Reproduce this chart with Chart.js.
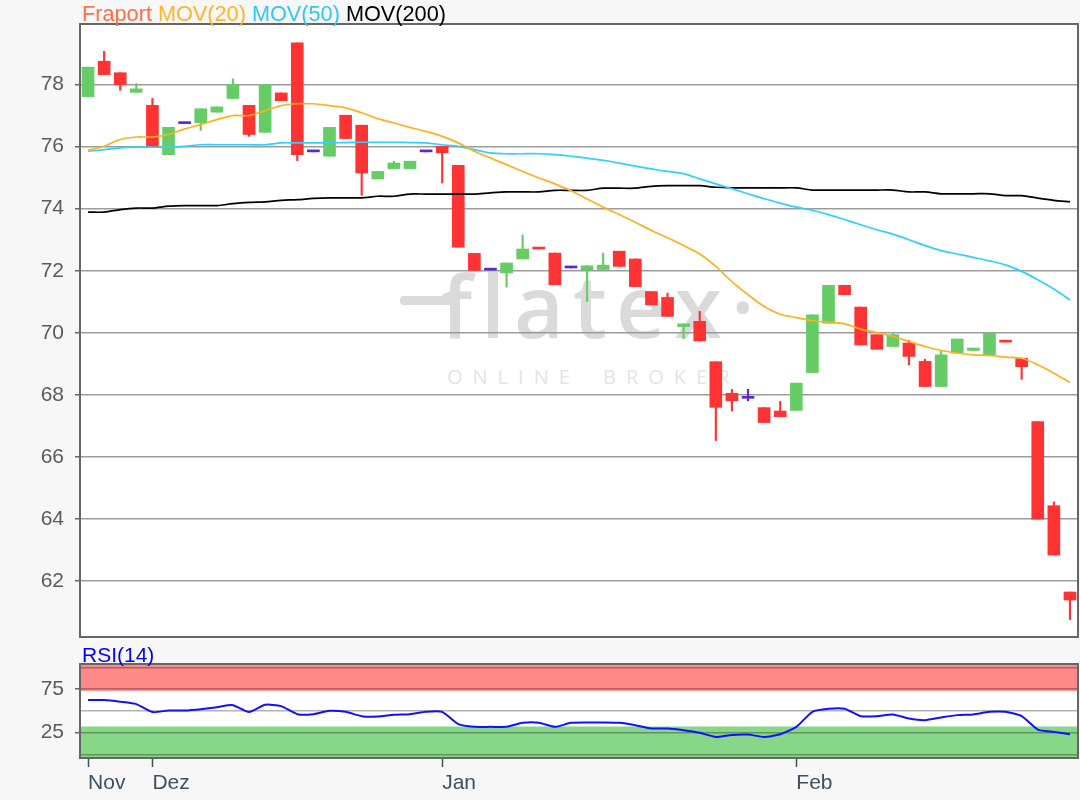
<!DOCTYPE html>
<html>
<head>
<meta charset="utf-8">
<script src="https://cdn.jsdelivr.net/npm/chart.js@4.4.1/dist/chart.umd.min.js"></script>
<style>
  body { margin: 0; background: #f7f7f7; }
  #wrap { position: relative; width: 1080px; height: 800px; overflow: hidden; background: #f7f7f7;
          font-family: "Liberation Sans", Arial, sans-serif; }
  #plotBg { position: absolute; left: 80px; top: 24px; width: 998px; height: 613px; background: #fff; }
  #fbar { position: absolute; left: 400px; top: 296px; width: 52px; height: 9px; border-radius: 4px; background: #dadada; }
  #mark { position: absolute; left: 441px; top: 262px; font-family: "Open Sans"; font-weight: 600;
          font-size: 86px; line-height: 1; letter-spacing: 9px; color: #dadada; white-space: nowrap; }
  #mark2 { position: absolute; left: 447px; top: 367px; font-family: "Open Sans"; font-size: 20px;
           line-height: 1; letter-spacing: 10px; word-spacing: 8px; color: #e4e4e4; white-space: nowrap; }
  .lbl { position: absolute; left: 82px; line-height: 24px; white-space: nowrap; }
  canvas { position: absolute; left: 0; }
</style>
</head>
<body>
<div id="wrap">
  <div id="plotBg"></div>
  <div id="fbar"></div>
  <div id="mark">flatex·</div>
  <div id="mark2">ONLINE BROKER</div>
  <canvas id="price" width="1080" height="640" style="top:0"></canvas>
  <canvas id="rsiChart" width="1080" height="160" style="top:640px"></canvas>
  <div class="lbl" style="top:2px;font-size:21.7px"><span style="color:#ff6e46">Fraport</span> <span style="color:#ffb428">MOV(20)</span> <span style="color:#2fc8f5">MOV(50)</span> <span style="color:#000">MOV(200)</span></div>
  <div class="lbl" style="top:643px;font-size:21px;color:#0000ff">RSI(14)</div>
</div>
<script>
const dates = [
  "26.11.2019", "27.11.2019", "28.11.2019", "29.11.2019",
  "02.12.2019", "03.12.2019", "04.12.2019", "05.12.2019", "06.12.2019", "09.12.2019",
  "10.12.2019", "11.12.2019", "12.12.2019", "13.12.2019", "16.12.2019", "17.12.2019",
  "18.12.2019", "19.12.2019", "20.12.2019", "23.12.2019", "27.12.2019", "30.12.2019",
  "02.01.2020", "03.01.2020", "06.01.2020", "07.01.2020", "08.01.2020", "09.01.2020",
  "10.01.2020", "13.01.2020", "14.01.2020", "15.01.2020", "16.01.2020", "17.01.2020",
  "20.01.2020", "21.01.2020", "22.01.2020", "23.01.2020", "24.01.2020", "27.01.2020",
  "28.01.2020", "29.01.2020", "30.01.2020", "31.01.2020",
  "03.02.2020", "04.02.2020", "05.02.2020", "06.02.2020", "07.02.2020", "10.02.2020",
  "11.02.2020", "12.02.2020", "13.02.2020", "14.02.2020", "17.02.2020", "18.02.2020",
  "19.02.2020", "20.02.2020", "21.02.2020", "24.02.2020", "25.02.2020", "26.02.2020"
];
const tickIndex = [0, 4, 22, 44];
const tickLabels = ["Nov", "Dez", "Jan", "Feb"];

const opens = [
  77.61, 78.75, 78.38, 77.75, 77.33, 75.74, 76.74, 76.77, 77.11, 77.55,
  77.33, 76.46, 77.73, 79.34, 75.83, 75.69, 77.01, 76.69, 74.96, 75.29,
  75.29, 75.83, 76.01, 75.40, 72.56, 72.02, 71.93, 72.38, 72.75, 72.57,
  72.09, 72.03, 72.04, 72.63, 72.38, 71.33, 71.14, 70.20, 70.37, 69.07,
  68.05, 67.89, 67.59, 67.48, 67.50, 68.72, 70.31, 71.53, 70.83, 69.94,
  69.56, 69.67, 69.08, 68.27, 69.35, 69.43, 69.29, 69.75, 69.18, 67.14,
  64.43, 61.65
];
const highs = [
  78.56, 79.07, 78.38, 78.03, 77.55, 76.62, 76.74, 77.22, 77.28, 78.18,
  77.33, 78.00, 77.73, 79.34, 75.83, 76.62, 77.01, 76.69, 75.20, 75.53,
  75.53, 75.83, 76.01, 75.40, 72.56, 72.02, 72.25, 73.15, 72.75, 72.57,
  72.09, 72.16, 72.57, 72.63, 72.38, 71.33, 71.28, 70.29, 70.69, 69.07,
  68.18, 68.18, 67.59, 67.79, 68.38, 70.58, 71.53, 71.53, 70.83, 69.94,
  69.99, 69.75, 69.15, 69.40, 69.80, 69.51, 69.99, 69.75, 69.18, 67.14,
  64.55, 61.65
];
const lows = [
  77.61, 78.32, 77.81, 77.75, 76.00, 75.74, 76.74, 76.52, 77.11, 77.55,
  76.33, 76.46, 77.48, 75.55, 75.83, 75.69, 76.26, 74.43, 74.96, 75.29,
  75.29, 75.83, 74.83, 72.76, 72.01, 72.02, 71.47, 72.38, 72.70, 71.55,
  72.09, 71.01, 72.04, 72.14, 71.49, 70.90, 70.53, 69.81, 69.74, 66.53,
  67.48, 67.81, 67.11, 67.30, 67.50, 68.72, 70.31, 71.23, 69.61, 69.47,
  69.56, 68.97, 68.27, 68.27, 69.35, 69.43, 69.29, 69.70, 68.50, 64.00,
  62.84, 60.76
];
const closes = [
  78.56, 78.32, 78.00, 77.86, 76.00, 76.62, 76.74, 77.22, 77.28, 78.00,
  76.39, 78.00, 77.48, 75.74, 75.83, 76.62, 76.26, 75.15, 75.20, 75.47,
  75.53, 75.83, 75.80, 72.76, 72.01, 72.02, 72.25, 72.70, 72.70, 71.55,
  72.09, 72.16, 72.18, 72.14, 71.49, 70.90, 70.53, 70.29, 69.74, 67.60,
  67.81, 67.89, 67.11, 67.30, 68.38, 70.58, 71.53, 71.23, 69.61, 69.47,
  69.94, 69.24, 68.27, 69.29, 69.80, 69.51, 69.99, 69.70, 68.91, 64.00,
  62.84, 61.39
];

const mov20 = [
  75.88, 76.01, 76.23, 76.31, 76.31, 76.39, 76.57, 76.71, 76.87, 77.00,
  77.00, 77.16, 77.32, 77.38, 77.38, 77.32, 77.25, 77.09, 76.90, 76.76,
  76.62, 76.49, 76.33, 76.12, 75.85, 75.63, 75.42, 75.20, 74.99, 74.80,
  74.58, 74.31, 74.05, 73.81, 73.56, 73.30, 73.06, 72.81, 72.54, 72.14,
  71.65, 71.23, 70.85, 70.60, 70.49, 70.39, 70.34, 70.29, 70.12, 70.01,
  69.88, 69.72, 69.56, 69.43, 69.35, 69.29, 69.27, 69.22, 69.18, 68.97,
  68.70, 68.40
];
const mov50 = [
  75.85, 75.90, 75.96, 75.98, 75.98, 75.98, 76.01, 76.06, 76.06, 76.06,
  76.06, 76.06, 76.12, 76.12, 76.12, 76.12, 76.13, 76.14, 76.14, 76.14,
  76.13, 76.12, 76.06, 76.01, 75.90, 75.80, 75.77, 75.77, 75.77, 75.74,
  75.69, 75.63, 75.56, 75.47, 75.37, 75.28, 75.20, 75.13, 74.96, 74.80,
  74.64, 74.48, 74.32, 74.18, 74.05, 73.95, 73.81, 73.65, 73.48, 73.32,
  73.18, 73.00, 72.81, 72.65, 72.54, 72.43, 72.32, 72.19, 71.98, 71.71,
  71.41, 71.06
];
const mov200 = [
  73.89, 73.89, 73.97, 74.02, 74.02, 74.08, 74.10, 74.10, 74.10, 74.16,
  74.20, 74.22, 74.27, 74.29, 74.33, 74.35, 74.35, 74.35, 74.40, 74.40,
  74.47, 74.47, 74.47, 74.47, 74.47, 74.51, 74.54, 74.54, 74.54, 74.59,
  74.59, 74.59, 74.66, 74.66, 74.66, 74.72, 74.74, 74.74, 74.74, 74.69,
  74.67, 74.67, 74.67, 74.67, 74.67, 74.60, 74.60, 74.60, 74.60, 74.60,
  74.60, 74.54, 74.54, 74.48, 74.48, 74.48, 74.48, 74.42, 74.42, 74.34,
  74.27, 74.22
];
const rsi = [
  62.4, 62.4, 60.5, 57.8, 48.6, 50.5, 50.5, 52.0, 54.3, 56.6,
  48.6, 57.0, 55.5, 46.2, 46.2, 50.1, 48.9, 43.9, 43.5, 45.5,
  46.2, 48.9, 48.9, 34.7, 31.6, 31.6, 31.6, 36.2, 36.4, 31.6,
  36.2, 36.6, 36.6, 36.2, 33.5, 29.7, 29.7, 27.7, 24.7, 20.0,
  22.3, 22.7, 20.0, 23.1, 31.6, 48.9, 52.4, 52.4, 43.9, 43.9,
  45.9, 41.2, 39.3, 42.4, 45.1, 45.9, 48.9, 48.9, 43.9, 28.5,
  25.8, 23.1
];
// RSI-Zonen (überkauft / überverkauft)
const rsiUpper = [73, 104];
const rsiLower = [-4.3, 32];

const UP = "#66cc66", DOWN = "#ff3333", FLAT = "#5a28d0";
const candleColor = opens.map((o, i) => closes[i] > o ? UP : (closes[i] < o ? DOWN : FLAT));

Chart.defaults.font.family = '"Liberation Sans", Arial, sans-serif';
Chart.defaults.font.size = 21;

const frame = {
  id: "frame",
  afterDraw(chart) {
    const { ctx, chartArea: a } = chart;
    ctx.save();
    ctx.strokeStyle = "#666";
    ctx.lineWidth = 2;
    ctx.strokeRect(a.left, a.top, a.right - a.left, a.bottom - a.top);
    ctx.restore();
  }
};

const bands = {
  id: "bands",
  beforeDraw(chart) {
    const { ctx, chartArea: a, scales: { y } } = chart;
    ctx.save();
    ctx.fillStyle = "#fff";
    ctx.fillRect(a.left, a.top, a.right - a.left, a.bottom - a.top);
    const band = (r, color) => {
      const top = Math.max(y.getPixelForValue(r[1]), a.top);
      const bottom = Math.min(y.getPixelForValue(r[0]), a.bottom);
      ctx.fillStyle = color;
      ctx.fillRect(a.left, top, a.right - a.left, bottom - top);
    };
    band(rsiUpper, "#ff8888");
    band(rsiLower, "#88d688");
    ctx.restore();
  }
};

// y-Achse: feste Breite, keine Extra-Abstände oben/unten
const fixWidth = s => { s.width = 80; s.paddingTop = 0; s.paddingBottom = 0; };

const lineDs = (label, data, color) => ({
  type: "line", label, data, borderColor: color, borderWidth: 1.7,
  pointRadius: 0, tension: 0.3, order: 0
});

new Chart(document.getElementById("price"), {
  type: "bar",
  data: {
    labels: dates,
    datasets: [
      lineDs("MOV(20)", mov20, "#ffb020"),
      lineDs("MOV(50)", mov50, "#2fd0ff"),
      lineDs("MOV(200)", mov200, "#000000"),
      {
        label: "Fraport", data: opens.map((o, i) => [o, closes[i]]),
        backgroundColor: candleColor, barThickness: 12, minBarLength: 2, grouped: false, order: 1
      },
      {
        label: "Docht", data: lows.map((l, i) => [l, highs[i]]),
        backgroundColor: candleColor, barThickness: 1.5, grouped: false, order: 2
      }
    ]
  },
  options: {
    responsive: false,
    animation: false,
    layout: { padding: { top: 24, right: 2, bottom: 3, left: 0 } },
    plugins: { legend: { display: false }, tooltip: { enabled: false } },
    scales: {
      x: { display: false, offset: true },
      y: {
        min: 60.2, max: 79.95,
        afterFit: fixWidth,
        ticks: { stepSize: 2, includeBounds: false, autoSkip: false, color: "#5a5a5a", padding: 11 },
        grid: { color: "#9c9c9c", lineWidth: 1.5, tickLength: 5, tickColor: "#666" },
        border: { display: false }
      }
    }
  },
  plugins: [frame]
});

new Chart(document.getElementById("rsiChart"), {
  type: "line",
  data: {
    labels: dates,
    datasets: [{
      label: "RSI(14)", data: rsi, borderColor: "#1010ff", borderWidth: 2,
      pointRadius: 0, tension: 0.2
    }]
  },
  options: {
    responsive: false,
    animation: false,
    layout: { padding: { top: 24, right: 2, bottom: 0, left: 0 } },
    plugins: { legend: { display: false }, tooltip: { enabled: false } },
    scales: {
      x: {
        offset: true,
        afterFit: s => { s.height = 42; },
        border: { display: false },
        grid: {
          offset: false, drawOnChartArea: false, tickLength: 9, tickWidth: 1.5,
          tickColor: c => tickIndex.includes(c.index) ? "#3d4f61" : "rgba(0,0,0,0)"
        },
        ticks: {
          autoSkip: false, maxRotation: 0, align: "start", padding: 4, color: "#3d4f61",
          callback: (v, i) => {
            const k = tickIndex.indexOf(i);
            return k < 0 ? "" : tickLabels[k];
          }
        }
      },
      y: {
        min: -4.3, max: 104,
        afterFit: fixWidth,
        border: { display: false },
        ticks: {
          stepSize: 25, includeBounds: false, autoSkip: false, color: "#5a5a5a", padding: 11,
          callback: v => (v === 25 || v === 75) ? v : ""
        },
        grid: {
          color: "rgba(0,0,0,0.3)", lineWidth: 1.5, tickLength: 5,
          tickColor: c => (c.tick && (c.tick.value === 25 || c.tick.value === 75)) ? "#666" : "rgba(0,0,0,0)"
        }
      }
    }
  },
  plugins: [bands, frame]
});
</script>
</body>
</html>
